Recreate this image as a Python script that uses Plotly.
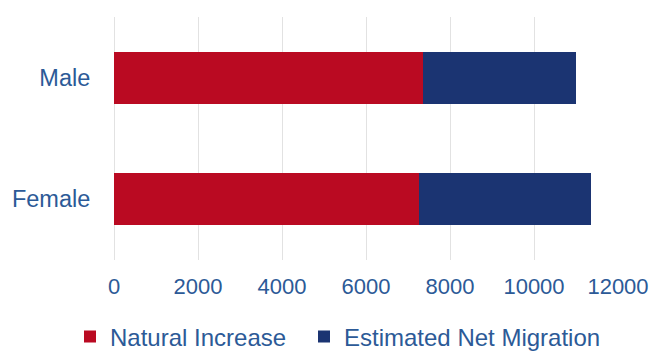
import plotly.graph_objects as go

# Population change by sex, split into its two components
categories = ["Female", "Male"]
natural_increase = [7260, 7360]
net_migration = [4100, 3650]
x_ticks = [0, 2000, 4000, 6000, 8000, 10000, 12000]

TEXT_BLUE = "#2C5A97"
RED = "#BA0A22"
NAVY = "#1B3472"
FONT = "Liberation Sans, Arial, sans-serif"

fig = go.Figure()
fig.add_trace(go.Bar(
    y=categories, x=natural_increase, orientation="h",
    name="Natural Increase", marker=dict(color=RED, line=dict(width=0)),
    legend="legend",
))
fig.add_trace(go.Bar(
    y=categories, x=net_migration, orientation="h",
    name="Estimated Net Migration", marker=dict(color=NAVY, line=dict(width=0)),
    legend="legend2",
))

legend_common = dict(
    orientation="h",
    xref="container", yref="container",
    xanchor="left", y=14 / 351, yanchor="middle",
    font=dict(size=24, color=TEXT_BLUE),
    itemwidth=30, bgcolor="rgba(0,0,0,0)",
)

fig.update_layout(
    barmode="stack",
    bargap=0.572,
    width=668, height=351,
    margin=dict(l=114, r=50, t=17, b=91, autoexpand=False),
    paper_bgcolor="white", plot_bgcolor="white",
    font=dict(family=FONT, color=TEXT_BLUE, size=22),
    showlegend=True,
    legend=dict(x=70 / 668, **legend_common),
    legend2=dict(x=304 / 668, **legend_common),
)
fig.update_xaxes(
    range=[0, 12000], tickvals=x_ticks, ticktext=[str(v) for v in x_ticks],
    showgrid=True, gridcolor="#E2E2E2", gridwidth=1,
    zeroline=True, zerolinecolor="#E2E2E2", zerolinewidth=1,
    showline=False, ticks="outside", ticklen=7, tickcolor="rgba(0,0,0,0)",
    tickfont=dict(size=22, color=TEXT_BLUE),
)
fig.update_yaxes(
    categoryorder="array", categoryarray=categories,
    showgrid=False, zeroline=False, showline=False,
    ticks="outside", ticklen=18, tickcolor="rgba(0,0,0,0)",
    tickfont=dict(size=23.5, color=TEXT_BLUE),
)

fig.write_html("out.html")
